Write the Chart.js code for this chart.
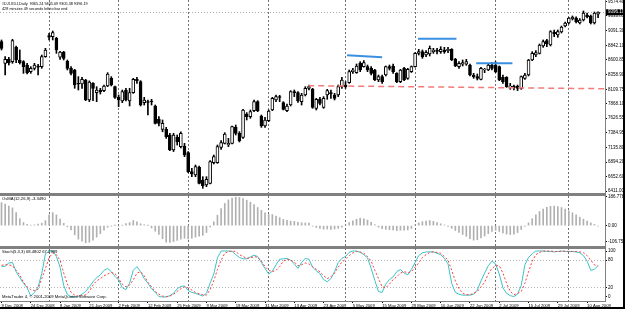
<!DOCTYPE html>
<html>
<head>
<meta charset="utf-8">
<script src="https://cdn.jsdelivr.net/npm/chart.js@4.4.1/dist/chart.umd.min.js"></script>
<style>
  html, body { margin: 0; padding: 0; background: #000; }
  #wrap { width: 625px; height: 309px; background: #000; position: relative; overflow: hidden; }
  #c { position: absolute; left: 0; top: 0; background: #fff; }
</style>
</head>
<body>
<div id="wrap"><canvas id="c" width="623" height="307"></canvas></div>
<script>
// daily bars as they appear on the chart (broker calendar, some days missing)
var dates = [
  '2008-12-09','2008-12-12','2008-12-15','2008-12-16','2008-12-18','2008-12-19','2008-12-22','2008-12-23','2008-12-24','2008-12-26','2008-12-29','2008-12-30','2008-12-31',
  '2009-01-05','2009-01-06','2009-01-07','2009-01-08','2009-01-09','2009-01-12','2009-01-13','2009-01-14','2009-01-15','2009-01-16','2009-01-20','2009-01-21','2009-01-22','2009-01-23','2009-01-26','2009-01-27','2009-01-28','2009-01-29','2009-01-30',
  '2009-02-02','2009-02-03','2009-02-04','2009-02-05','2009-02-06','2009-02-09','2009-02-10','2009-02-11','2009-02-12','2009-02-13','2009-02-17','2009-02-18','2009-02-19','2009-02-20','2009-02-23','2009-02-24','2009-02-25','2009-02-26','2009-02-27',
  '2009-03-02','2009-03-03','2009-03-04','2009-03-05','2009-03-06','2009-03-09','2009-03-10','2009-03-11','2009-03-12','2009-03-13','2009-03-16','2009-03-17','2009-03-18','2009-03-19','2009-03-20','2009-03-23','2009-03-24','2009-03-25','2009-03-26','2009-03-27','2009-03-30','2009-03-31',
  '2009-04-01','2009-04-02','2009-04-03','2009-04-06','2009-04-07','2009-04-08','2009-04-09','2009-04-13','2009-04-14','2009-04-15','2009-04-16','2009-04-17','2009-04-20','2009-04-21','2009-04-22','2009-04-23','2009-04-24','2009-04-27','2009-04-28','2009-04-29','2009-04-30',
  '2009-05-01','2009-05-04','2009-05-05','2009-05-06','2009-05-07','2009-05-08','2009-05-11','2009-05-12','2009-05-13','2009-05-14','2009-05-15','2009-05-18','2009-05-19','2009-05-20','2009-05-21','2009-05-26','2009-05-27','2009-05-28','2009-05-29',
  '2009-06-01','2009-06-02','2009-06-03','2009-06-04','2009-06-05','2009-06-08','2009-06-09','2009-06-10','2009-06-11','2009-06-12','2009-06-15','2009-06-16','2009-06-17','2009-06-18','2009-06-19','2009-06-22','2009-06-23','2009-06-24','2009-06-25','2009-06-26','2009-06-29','2009-06-30',
  '2009-07-01','2009-07-02','2009-07-06','2009-07-07','2009-07-08','2009-07-09','2009-07-10','2009-07-13','2009-07-14','2009-07-15','2009-07-16','2009-07-17','2009-07-20','2009-07-21','2009-07-22','2009-07-23','2009-07-24','2009-07-29','2009-07-30','2009-07-31',
  '2009-08-03','2009-08-04','2009-08-05','2009-08-06','2009-08-07','2009-08-10','2009-08-11','2009-08-12','2009-08-13'
];
var opens = [
  8905,8543,8610,8571,8810,8599,8571,8515,8404,8460,
  8499,8488,8655,9005,8989,8961,8644,8733,8577,8460,
  8432,8209,8198,8265,7931,8209,8053,8098,8087,8165,
  8293,8153,7975,7914,8098,7914,8053,8276,8237,7886,
  7903,7914,7831,7608,7441,7441,7346,7096,7307,7152,
  7163,7051,6734,6678,6806,6595,6511,6539,6884,6884,
  7140,7207,7179,7207,7474,7374,7307,7697,7653,7753,
  7903,7664,7497,7586,7764,7931,7987,7886,7753,7847,
  8070,8053,7903,8014,8126,8115,7792,7948,7808,8014,
  8053,8014,8014,8153,8181,8220,8404,8387,8543,8488,
  8488,8460,8432,8265,8321,8348,8488,8499,8376,8237,
  8460,8293,8404,8488,8710,8738,8682,8699,8738,8760,
  8738,8766,8755,8777,8610,8488,8527,8527,8515,8348,
  8321,8276,8432,8432,8515,8515,8488,8309,8309,8142,
  8164,8165,8126,8293,8348,8599,8682,8710,8833,8922,
  8849,9061,9016,9066,9166,9217,9283,9300,9217,9267,
  9350,9334,9217,9365.24
];
var highs = [
  8933,8655,8644,8944,8833,8766,8588,8543,8488,8543,
  8527,8682,8794,9044,9083,8978,8744,8744,8599,8488,
  8443,8321,8309,8276,8250,8220,8153,8126,8181,8387,
  8321,8165,8014,8098,8126,8126,8293,8309,8254,7975,
  7931,7942,7847,7653,7597,7474,7374,7374,7346,7400,
  7207,7068,6790,6845,6828,6650,6650,6917,7012,7179,
  7252,7385,7290,7497,7513,7402,7775,7720,7764,7931,
  7920,7680,7641,7764,7975,8014,8009,7903,7864,8087,
  8098,8070,8042,8153,8181,8126,7959,7975,7987,8109,
  8098,8042,8181,8309,8237,8432,8460,8532,8571,8588,
  8515,8488,8443,8348,8348,8499,8515,8532,8387,8443,
  8477,8460,8499,8721,8777,8766,8755,8833,8794,8794,
  8821,8810,8810,8788,8627,8571,8599,8610,8532,8376,
  8365,8477,8460,8543,8554,8571,8499,8348,8321,8209,
  8181,8181,8332,8376,8610,8738,8755,8866,8933,8944,
  9089,9100,9100,9166,9233,9310,9334,9320,9290,9417,
  9384,9350,9400,9405.09
];
var lows = [
  8766,8348,8515,8543,8554,8532,8376,8365,8376,8432,
  8348,8460,8644,8933,8933,8710,8610,8599,8432,8348,
  8126,8098,8126,7920,7903,7920,7903,8030,8070,8153,
  8165,7959,7820,7886,7914,7831,8042,8209,7831,7847,
  7680,7847,7530,7497,7400,7290,7085,7070,7179,7130,
  6984,6718,6650,6650,6528,6456,6483,6528,6862,6873,
  7107,7196,7152,7196,7346,7230,7290,7597,7625,7736,
  7736,7474,7474,7569,7753,7903,7903,7764,7736,7831,
  7987,7890,7847,7998,8098,7792,7764,7847,7792,7942,
  7959,7931,7987,8126,8126,8209,8376,8376,8404,8477,
  8404,8348,8254,8237,8209,8332,8432,8376,8220,8220,
  8254,8276,8390,8477,8682,8627,8655,8666,8710,8699,
  8710,8710,8722,8588,8488,8460,8499,8510,8332,8293,
  8265,8265,8387,8421,8432,8387,8254,8209,8142,8109,
  8098,8087,8109,8276,8332,8588,8655,8699,8810,8821,
  8833,8989,8978,9050,9150,9200,9267,9217,9200,9250,
  9300,9200,9200,9305.38
];
var closes = [
  8794,8610,8554,8922,8599,8554,8488,8387,8460,8515,
  8477,8655,8766,8978,9055,8766,8733,8627,8460,8376,
  8181,8198,8276,7931,8232,8126,8098,8070,8165,8365,
  8181,7975,7931,8070,7931,8053,8276,8254,7847,7931,
  7890,7903,7541,7541,7541,7319,7096,7346,7235,7374,
  7012,6734,6695,6818,6539,6500,6606,6901,6984,7152,
  7218,7363,7207,7486,7374,7252,7764,7653,7736,7903,
  7753,7497,7597,7747,7959,7987,7975,7775,7831,8070,
  8053,7914,8014,8126,8153,7808,7942,7875,7959,8087,
  8031,7959,8153,8265,8153,8404,8432,8499,8432,8554,
  8432,8376,8265,8321,8237,8488,8460,8404,8237,8432,
  8265,8443,8488,8710,8738,8655,8727,8794,8766,8744,
  8777,8738,8777,8599,8499,8543,8554,8571,8348,8321,
  8293,8460,8443,8515,8460,8404,8265,8237,8153,8164,
  8137,8126,8321,8348,8599,8710,8721,8849,8905,8866,
  9072,9033,9072,9150,9217,9300,9317,9233,9267,9384,
  9317,9217,9384,9396.19
];
// OsMA(12,26,9) histogram
var osma = [
  150,140,128,116,85,45,20,8,3,5,
  10,16,32,70,85,70,42,15,-8,-28,
  -60,-88,-102,-112,-108,-95,-75,-52,-30,-10,
  -2,1,-3,2,14,20,33,25,12,6,
  1,-15,-36,-58,-85,-108,-110,-104,-96,-88,
  -82,-86,-82,-75,-69,-63,-45,-8,25,68,
  112,145,168,180,186,184,176,166,153,138,
  118,100,84,73,72,63,52,40,35,29,
  27,22,18,17,16,-4,-12,-18,-23,-22,
  -24,-22,-18,-10,2,20,32,42,48,45,
  36,22,6,-10,-20,-24,-26,-28,-32,-30,
  -30,-28,-18,5,18,26,30,33,28,20,
  12,4,-5,-18,-32,-45,-58,-70,-85,-95,
  -92,-80,-68,-52,-38,-30,-38,-48,-55,-58,
  -55,-45,-25,-5,18,45,70,92,108,120,
  126,127,124,118,108,97,84,70,55,42,
  30,18,8,-3.349
];
// Stoch(5,3,3) main and signal
var stochMain = [
  66,67,74,75,55,42,30,20,2,10,
  22,51,94,100,100,88,65,25,5,1,
  0,1,6,12,22,33,42,48,58,62,
  55,45,37,20,16,30,58,66,55,40,
  30,18,10,1,0,0,3,8,18,23,
  24,14,10,8,5,2,8,30,50,85,
  100,100,100,99,92,86,83,83,87,91,
  88,75,62,50,56,70,82,83,84,80,
  72,62,75,84,82,65,57,51,38,33,
  40,55,75,84,88,97,100,100,97,92,
  85,62,36,12,10,28,38,44,55,60,
  52,48,60,75,90,96,98,98,98,95,
  92,84,72,30,10,6,4,4,4,6,
  15,35,52,68,78,72,50,20,8,3,
  1,6,25,70,86,94,100,100,100,99,
  99,98,99,100,99,99,99,98,96,90,
  78,58,60,68.4802
];
var stochSignal = [
  69,70,70,68,58,48,32,22,16,14,
  17,40,62,85,96,92,80,52,28,10,
  4,2,3,5,12,26,35,40,46,50,
  53,51,40,28,22,26,37,52,55,46,
  32,22,12,6,2,1,2,6,12,18,
  22,20,15,10,7,5,4,16,35,60,
  80,95,99,100,99,92,88,84,85,88,
  86,78,66,58,55,58,66,78,82,80,
  76,68,70,74,72,66,60,55,46,40,
  44,52,65,76,82,90,96,99,98,95,
  88,78,58,40,22,20,28,38,44,52,
  55,53,55,65,74,86,92,97,98,97,
  95,88,80,58,35,18,8,5,5,8,
  12,22,32,50,62,68,68,52,30,12,
  5,8,12,30,55,78,92,97,100,100,
  100,99,99,99,100,99,99,99,98,96,
  90,80,70,67.2999
];
// hand drawn objects: [bar index, price]
var trendA = [[94.4, 8677], [104.0, 8644]];
var trendB = [[113.8, 8955], [124.3, 8955]];
var trendC = [[129.7, 8546], [139.6, 8546]];
var supportLine = [[83.8, 8170], [164.9, 8119]];

var priceTicks = [9574.40, 9333.85, 9091.30, 8842.10, 8600.85, 8358.90, 8109.75, 7868.10, 7626.55, 7384.95, 7135.80, 6894.20, 6652.60, 6411.00];
var osmaTicks = [186.7782, 0, -106.7532];
var stochTicks = [100, 80, 20, 0];

var MONTHS = ['Jan','Feb','Mar','Apr','May','Jun','Jul','Aug','Sep','Oct','Nov','Dec'];
function dateLabel(i) {
  var d = dates[i].split('-');
  return parseInt(d[2], 10) + ' ' + MONTHS[parseInt(d[1], 10) - 1] + ' ' + d[0];
}

var last = closes.length - 1;
var headerText = '#DJI.XDJ,Daily  ' + opens[last].toFixed(2) + ' ' + highs[last].toFixed(2) + ' ' + lows[last].toFixed(2) + ' ' + closes[last].toFixed(2);
var timerText = '428 minutes 49 seconds left to bar end';
var osmaText = 'OsMA(12,26,9) ' + osma[last].toFixed(4);
var stochText = 'Stoch(5,3,3) ' + stochMain[last].toFixed(4) + ' ' + stochSignal[last].toFixed(4);
var copyText = 'MetaTrader 4, \u00a9 2001-2009 MetaQuotes Software Corp.';

var labelIdx = [], monthIdx = [];
var wickData = [], bodyData = [], bodyColors = [], osmaData = [], kData = [], dData = [];
for (var i = 0; i < dates.length; i++) {
  if (i % 8 === 0) labelIdx.push(i);
  if (i > 0 && dates[i].slice(5, 7) !== dates[i - 1].slice(5, 7)) monthIdx.push(i);
  wickData.push({x: i, y: [lows[i], highs[i]]});
  bodyData.push({x: i, y: [opens[i], closes[i]]});
  bodyColors.push(closes[i] >= opens[i] ? '#ffffff' : '#000000');
  osmaData.push({x: i, y: osma[i]});
  kData.push({x: i, y: stochMain[i]});
  dData.push({x: i, y: stochSignal[i]});
}
function pts(arr) {
  return arr.map(function(p){ return {x: p[0], y: p[1]}; });
}

var FONT = '"Liberation Sans", Arial, sans-serif';
Chart.defaults.font.family = FONT;
var xMin = -0.41, xMax = 164.89;

function rightAxis(w) {
  return function(sc) { sc.width = w; sc.paddingTop = 0; sc.paddingBottom = 0; };
}

var paneDecor = {
  id: 'paneDecor',
  beforeDatasetsDraw: function(chart) {
    var ctx = chart.ctx, a = chart.chartArea;
    var py = Math.round(chart.scales.yPrice.getPixelForValue(closes[last])) + 0.5;
    ctx.save();
    ctx.strokeStyle = '#a8a8a8';
    ctx.lineWidth = 1;
    ctx.setLineDash([1, 2]);
    ctx.beginPath(); ctx.moveTo(a.left, py); ctx.lineTo(a.right, py); ctx.stroke();
    ctx.restore();
  },
  afterDraw: function(chart) {
    var ctx = chart.ctx, a = chart.chartArea, s = chart.scales;
    ctx.save();
    ctx.fillStyle = '#808080';
    [s.yOsma.top, s.yStoch.top].forEach(function(t) {
      ctx.fillRect(a.left, Math.round(t) - 1, a.right - a.left, 3);
    });
    // current price tag
    var py = s.yPrice.getPixelForValue(closes[last]);
    ctx.fillStyle = '#000';
    ctx.fillRect(a.right + 1, py - 3, 20, 6);
    ctx.fillStyle = '#fff';
    ctx.font = '4.5px ' + FONT;
    ctx.textBaseline = 'middle';
    ctx.fillText(closes[last].toFixed(2), a.right + 3, py);
    // captions
    ctx.fillStyle = '#000';
    ctx.font = '3.8px ' + FONT;
    ctx.fillText(headerText, 2, 4);
    ctx.fillText(timerText, 2, 9);
    ctx.font = '4.2px ' + FONT;
    ctx.fillText(osmaText, 2, s.yOsma.top + 5);
    ctx.fillText(stochText, 2, s.yStoch.top + 5);
    ctx.fillText(copyText, 2, a.bottom - 4);
    ctx.restore();
  }
};

new Chart(document.getElementById('c'), {
  type: 'bar',
  data: {
    datasets: [
      { type: 'bar', data: wickData, xAxisID: 'x', yAxisID: 'yPrice', backgroundColor: '#000', barThickness: 1, grouped: false, order: 10 },
      { type: 'bar', data: bodyData, xAxisID: 'x', yAxisID: 'yPrice', backgroundColor: bodyColors, borderColor: '#000', borderWidth: 1, borderSkipped: false, barThickness: 3, grouped: false, order: 9 },
      { type: 'bar', data: osmaData, xAxisID: 'x', yAxisID: 'yOsma', backgroundColor: '#b0b0b0', barThickness: 1, grouped: false, order: 8 },
      { type: 'line', data: kData, xAxisID: 'x', yAxisID: 'yStoch', borderColor: '#3cc3c8', borderWidth: 1, pointRadius: 0, tension: 0, order: 6 },
      { type: 'line', data: dData, xAxisID: 'x', yAxisID: 'yStoch', borderColor: '#ff3b3b', borderWidth: 1, borderDash: [2, 2], pointRadius: 0, tension: 0, order: 5 },
      { type: 'line', data: pts(trendA), xAxisID: 'x', yAxisID: 'yPrice', borderColor: '#3a8fe3', borderWidth: 2, pointRadius: 0, order: 2 },
      { type: 'line', data: pts(trendB), xAxisID: 'x', yAxisID: 'yPrice', borderColor: '#3a8fe3', borderWidth: 2, pointRadius: 0, order: 2 },
      { type: 'line', data: pts(trendC), xAxisID: 'x', yAxisID: 'yPrice', borderColor: '#3a8fe3', borderWidth: 2, pointRadius: 0, order: 2 },
      { type: 'line', data: pts(supportLine), xAxisID: 'x', yAxisID: 'yPrice', borderColor: '#f27c7c', borderWidth: 1.5, borderDash: [6, 4], pointRadius: 0, order: 1 }
    ]
  },
  options: {
    responsive: false,
    animation: false,
    devicePixelRatio: 1,
    events: [],
    layout: { padding: 0 },
    plugins: { legend: { display: false }, tooltip: { enabled: false } },
    scales: {
      x: {
        type: 'linear', position: 'bottom', min: xMin, max: xMax, offset: false,
        grid: { display: true, drawOnChartArea: false, drawTicks: true, tickLength: 2, tickColor: '#000', offset: false },
        border: { display: true, color: '#808080' },
        afterBuildTicks: function(sc) { sc.ticks = labelIdx.map(function(v){ return {value: v}; }); },
        ticks: {
          autoSkip: false, maxRotation: 0, minRotation: 0, align: 'start', padding: 0,
          color: '#000', font: { size: 4.2 },
          callback: function(v) { return dateLabel(Math.round(v)); }
        },
        afterFit: function(sc) { sc.height = 6; sc.paddingLeft = 0; sc.paddingRight = 0; }
      },
      xm: {
        type: 'linear', position: 'bottom', min: xMin, max: xMax, offset: false,
        grid: { color: '#707070', lineWidth: 1, drawTicks: false, offset: false },
        border: { display: false, dash: [2, 2] },
        ticks: { display: false },
        afterBuildTicks: function(sc) { sc.ticks = monthIdx.map(function(v){ return {value: v}; }); },
        afterFit: function(sc) { sc.height = 0; sc.paddingLeft = 0; sc.paddingRight = 0; }
      },
      yPrice: {
        type: 'linear', position: 'right', stack: 'panes', stackWeight: 194, weight: 0,
        min: 6360.9, max: 9600.7, beginAtZero: false,
        grid: { drawOnChartArea: false, drawTicks: true, tickLength: 2, tickColor: '#000' },
        border: { color: '#808080' },
        afterBuildTicks: function(sc) { sc.ticks = priceTicks.map(function(v){ return {value: v}; }); },
        ticks: { autoSkip: false, padding: 1, color: '#000', font: { size: 4.5 }, callback: function(v) { return v.toFixed(2); } },
        afterFit: rightAxis(18)
      },
      yOsma: {
        type: 'linear', position: 'right', stack: 'panes', stackWeight: 53, weight: 1,
        min: -139.4, max: 206.3, beginAtZero: false,
        grid: { drawOnChartArea: false, drawTicks: true, tickLength: 2, tickColor: '#000' },
        border: { color: '#808080' },
        afterBuildTicks: function(sc) { sc.ticks = osmaTicks.map(function(v){ return {value: v}; }); },
        ticks: { autoSkip: false, padding: 1, color: '#000', font: { size: 4.5 }, callback: function(v) { return v === 0 ? '0.00' : v.toFixed(4); } },
        afterFit: rightAxis(18)
      },
      yStoch: {
        type: 'linear', position: 'right', stack: 'panes', stackWeight: 54, weight: 2,
        min: -8.7, max: 108.7, beginAtZero: false,
        grid: {
          drawOnChartArea: true, drawTicks: true, tickLength: 2, tickColor: '#000',
          color: function(ctx) { return (ctx.tick && (ctx.tick.value === 80 || ctx.tick.value === 20)) ? '#b5b5b5' : 'rgba(0,0,0,0)'; }
        },
        border: { color: '#808080', dash: [1, 2] },
        afterBuildTicks: function(sc) { sc.ticks = stochTicks.map(function(v){ return {value: v}; }); },
        ticks: { autoSkip: false, padding: 1, color: '#000', font: { size: 4.5 }, callback: function(v) { return String(v); } },
        afterFit: rightAxis(18)
      }
    }
  },
  plugins: [paneDecor]
});
</script>
</body>
</html>
